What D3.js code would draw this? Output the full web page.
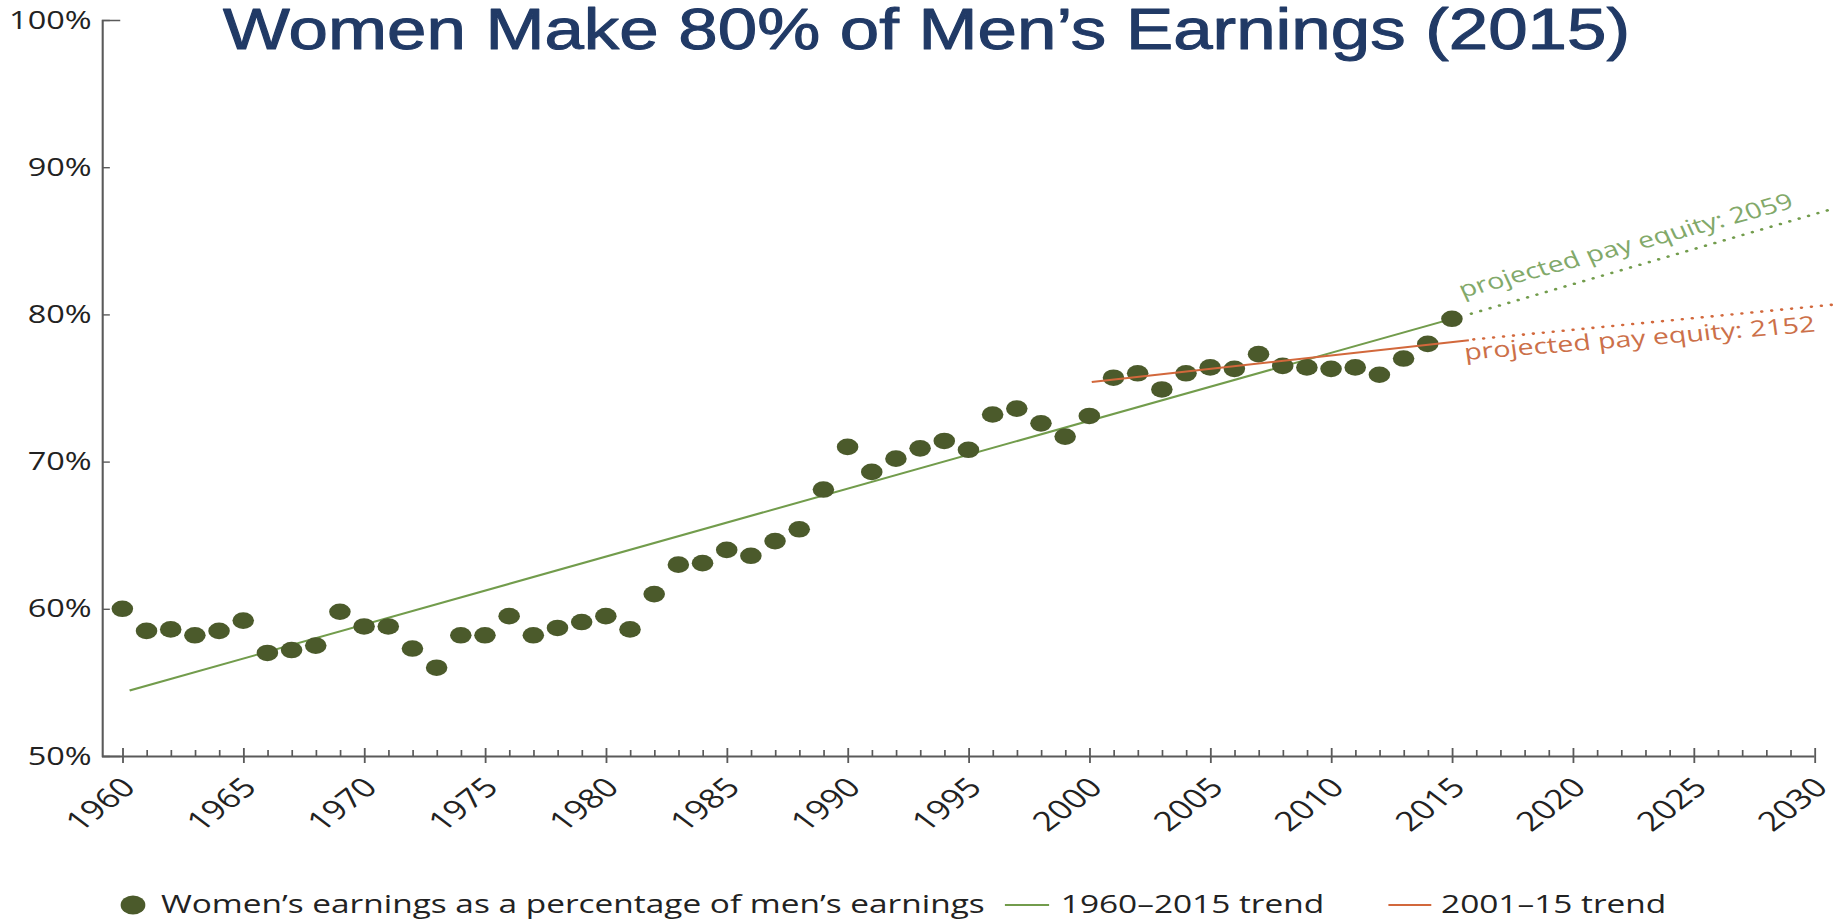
<!DOCTYPE html>
<html>
<head>
<meta charset="utf-8">
<script src="https://cdn.jsdelivr.net/npm/d3@7"></script>
<style>
	body { margin: 0; background: #fff; }
	svg { display: block; }
</style>
</head>
<body>
<svg id="chart" width="1841" height="920"></svg>
<script>
'use strict';

// DATA
var years = [1960, 1961, 1962, 1963, 1964, 1965, 1966, 1967, 1968, 1969,
	1970, 1971, 1972, 1973, 1974, 1975, 1976, 1977, 1978, 1979,
	1980, 1981, 1982, 1983, 1984, 1985, 1986, 1987, 1988, 1989,
	1990, 1991, 1992, 1993, 1994, 1995, 1996, 1997, 1998, 1999,
	2000, 2001, 2002, 2003, 2004, 2005, 2006, 2007, 2008, 2009,
	2010, 2011, 2012, 2013, 2014, 2015];

var earningsRatio = [60.0, 58.5, 58.6, 58.2, 58.5, 59.2, 57.0, 57.2, 57.5, 59.8,
	58.8, 58.8, 57.3, 56.0, 58.2, 58.2, 59.5, 58.2, 58.7, 59.1,
	59.5, 58.6, 61.0, 63.0, 63.1, 64.0, 63.6, 64.6, 65.4, 68.1,
	71.0, 69.3, 70.2, 70.9, 71.4, 70.8, 73.2, 73.6, 72.6, 71.7,
	73.1, 75.7, 76.0, 74.9, 76.0, 76.4, 76.3, 77.3, 76.5, 76.4,
	76.3, 76.4, 75.9, 77.0, 78.0, 79.7];

// trend lines (end points as drawn) and their dotted projections
var longTrendYears = [1960.3, 2015];
var longTrendValues = [54.45, 79.7];
var longProjYears = [2015.8, 2030.6];
var longProjValues = [80.05, 87.1];

var shortTrendYears = [2000.1, 2015.7];
var shortTrendValues = [75.4, 78.25];
var shortProjYears = [2015.9, 2030.7];
var shortProjValues = [78.3, 80.65];

var yTicks = [50, 60, 70, 80, 90, 100];
var xMajorTicks = [1960, 1965, 1970, 1975, 1980, 1985, 1990, 1995,
	2000, 2005, 2010, 2015, 2020, 2025, 2030];

var titleText = 'Women Make 80% of Men\u2019s Earnings (2015)';
var longLabel = 'projected pay equity: 2059';
var shortLabel = 'projected pay equity: 2152';
var legendLabels = ['Women\u2019s earnings as a percentage of men\u2019s earnings',
	'1960\u20132015 trend', '2001\u201315 trend'];

// COLOURS
var dotColor = '#4b5a2b';
var longColor = '#729c4c';
var shortColor = '#d2683c';
var longTextColor = '#82a96a';
var shortTextColor = '#cc7049';
var axisColor = '#5a5a5a';
var textColor = '#222';
var titleColor = '#213a66';

// the chart artwork is stretched horizontally
var SX = 1.3;

var svg = d3.select('#chart');

// TITLE
svg.append('text')
	.attr('x', 223)
	.attr('y', 49)
	.attr('textLength', 1407)
	.attr('lengthAdjust', 'spacingAndGlyphs')
	.style('font-family', "'Liberation Sans Narrow', 'Arial Narrow', 'Liberation Sans', Arial, sans-serif")
	.style('font-size', '57px')
	.style('fill', titleColor)
	.style('stroke', titleColor)
	.style('stroke-width', 1)
	.style('stroke-linejoin', 'round')
	.text(titleText);

var chart = svg.append('g')
	.attr('transform', 'scale(' + SX + ',1)')
	.style('font-family', "'Open Sans', sans-serif");

var x = d3.scaleLinear()
	.domain([1959.16, 2030])
	.range([78.5, 1395.8]);

var y = d3.scaleLinear()
	.domain([50, 100])
	.range([756, 20]);

// Y AXIS
var yAxis = chart.append('g')
	.attr('transform', 'translate(' + x(1959.16) + ',0)')
	.style('color', axisColor)
	.call(d3.axisLeft(y)
		.tickValues(yTicks)
		.tickSizeInner(-6)
		.tickSizeOuter(-14)
		.tickPadding(8)
		.tickFormat(function(d) { return d + '%'; }));

yAxis.select('.domain').attr('stroke-width', 1.6);
yAxis.selectAll('.tick line').attr('stroke-width', 1.4);
yAxis.selectAll('.tick text')
	.style('font-size', '25px')
	.style('fill', textColor)
	.style('font-family', "'Open Sans', sans-serif");

// X AXIS
var minorTicks = d3.range(1960, 2031).filter(function(d) { return d % 5 !== 0; });

chart.append('line')
	.attr('x1', x.range()[0])
	.attr('x2', x.range()[1])
	.attr('y1', y(50) + 0.5)
	.attr('y2', y(50) + 0.5)
	.attr('stroke', axisColor)
	.attr('stroke-width', 2);

var xMinor = chart.append('g')
	.attr('transform', 'translate(0,' + y(50) + ')')
	.style('color', axisColor)
	.call(d3.axisBottom(x)
		.tickValues(minorTicks)
		.tickSize(-6)
		.tickFormat(''));
xMinor.select('.domain').remove();
xMinor.selectAll('.tick line').attr('stroke-width', 1.3);

var xMajor = chart.append('g')
	.attr('transform', 'translate(0,' + y(50) + ')')
	.style('color', axisColor)
	.call(d3.axisBottom(x)
		.tickValues(xMajorTicks)
		.tickSizeInner(7)
		.tickSizeOuter(0)
		.tickFormat(d3.format('d')));
xMajor.select('.domain').remove();
xMajor.selectAll('.tick line')
	.attr('y1', -8)
	.attr('stroke-width', 1.4);
xMajor.selectAll('.tick text')
	.attr('x', 0)
	.attr('y', 0)
	.attr('dy', 0)
	.attr('transform', 'translate(11,33) rotate(-45)')
	.style('text-anchor', 'end')
	.style('font-size', '27px')
	.style('fill', textColor)
	.style('font-family', "'Open Sans', sans-serif");

// TREND LINES
var line = d3.line()
	.x(function(d) { return x(d[0]); })
	.y(function(d) { return y(d[1]); });

var drawLine = function(xs, vs, color, dotted) {
	var path = chart.append('path')
		.datum(d3.zip(xs, vs))
		.attr('d', line)
		.attr('fill', 'none')
		.attr('stroke', color);
	if (dotted) {
		path.attr('stroke-width', 2.6)
			.attr('stroke-linecap', 'round')
			.attr('stroke-dasharray', '0.1 7.6');
	} else {
		path.attr('stroke-width', 2);
	}
};

drawLine(longTrendYears, longTrendValues, longColor, false);
drawLine(longProjYears, longProjValues, longColor, true);

// DOTS
chart.append('g')
	.selectAll('circle')
	.data(d3.zip(years, earningsRatio)).enter()
	.append('circle')
	.attr('cx', function(d) { return x(d[0]); })
	.attr('cy', function(d) { return y(d[1]); })
	.attr('r', 8.3)
	.attr('fill', dotColor);

drawLine(shortTrendYears, shortTrendValues, shortColor, false);
drawLine(shortProjYears, shortProjValues, shortColor, true);

// PROJECTION LABELS
chart.append('text')
	.attr('transform', 'translate(' + x(2015.45) + ',' + (y(79.9) - 18) + ') rotate(-19.5)')
	.style('font-size', '22px')
	.style('fill', longTextColor)
	.text(longLabel);

chart.append('text')
	.attr('transform', 'translate(' + x(2015.55) + ',' + (y(78.2) + 19) + ') rotate(-6)')
	.style('font-size', '22px')
	.style('fill', shortTextColor)
	.text(shortLabel);

// LEGEND
var legendY = 905;
var legend = chart.append('g')
	.style('font-size', '25.7px')
	.style('fill', textColor);

legend.append('circle')
	.attr('cx', 102.3)
	.attr('cy', legendY)
	.attr('r', 9.5)
	.attr('fill', dotColor);
legend.append('text')
	.attr('x', 123.8)
	.attr('y', legendY + 8)
	.text(legendLabels[0]);

legend.append('line')
	.attr('x1', 773).attr('x2', 807)
	.attr('y1', legendY).attr('y2', legendY)
	.attr('stroke', longColor)
	.attr('stroke-width', 2);
legend.append('text')
	.attr('x', 816)
	.attr('y', legendY + 8)
	.text(legendLabels[1]);

legend.append('line')
	.attr('x1', 1068).attr('x2', 1101)
	.attr('y1', legendY).attr('y2', legendY)
	.attr('stroke', shortColor)
	.attr('stroke-width', 2);
legend.append('text')
	.attr('x', 1108.5)
	.attr('y', legendY + 8)
	.text(legendLabels[2]);
</script>
</body>
</html>
